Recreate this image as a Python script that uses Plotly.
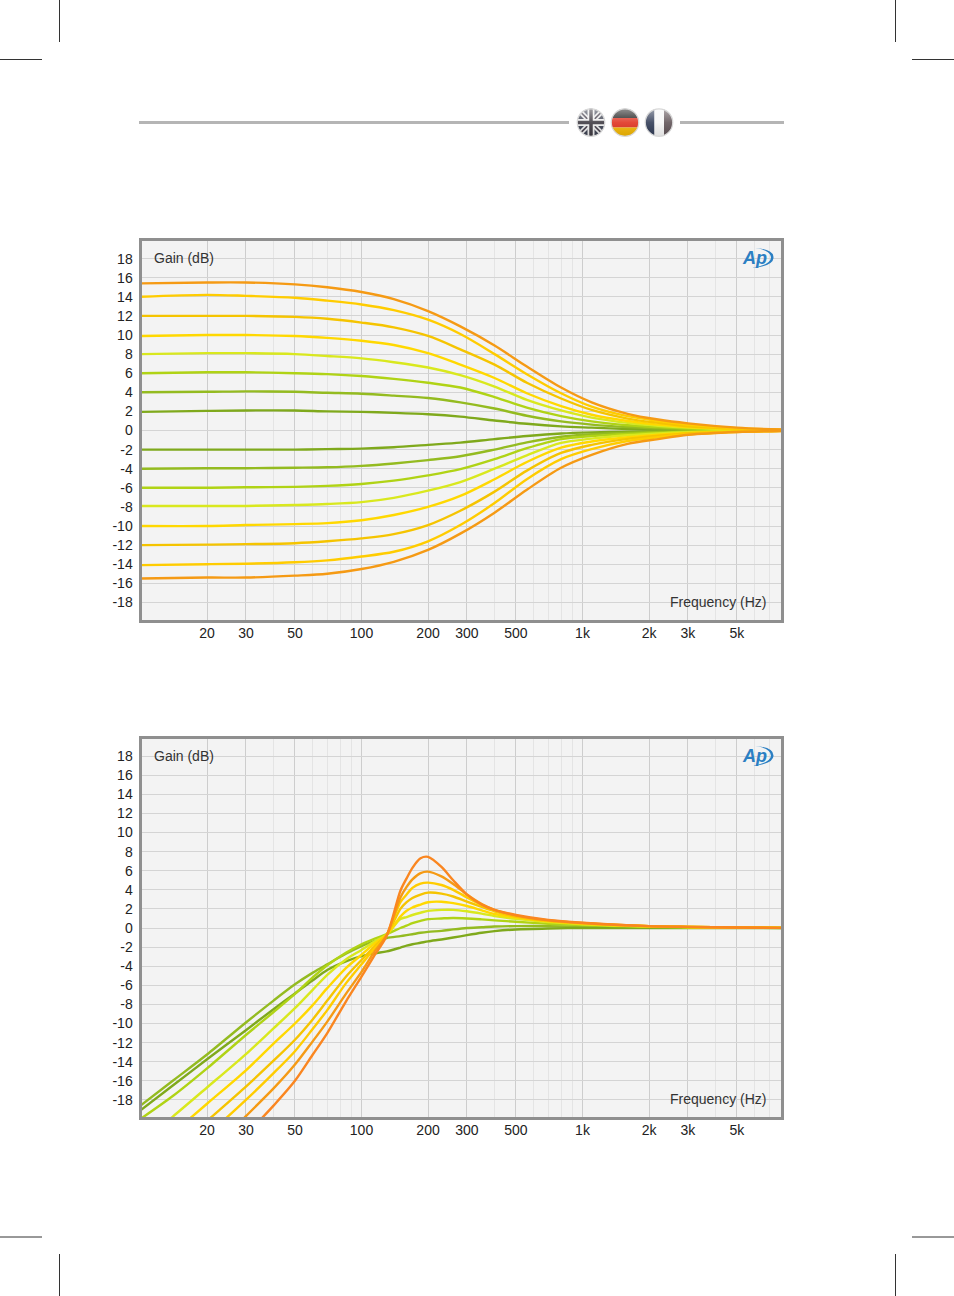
import base64
import plotly.graph_objects as go

W, H = 954, 1296

# top plot: shelving curves
shelf_freq = [10, 20, 30, 50, 70, 100, 140, 200, 280, 400, 560, 800, 1100, 1600, 2200, 3000, 5000, 8000]
shelf_p2 = [1.95, 2.05, 2.1, 2.1, 2.0, 1.95, 1.85, 1.7, 1.45, 1.05, 0.7, 0.43, 0.3, 0.16, 0.09, 0.05, 0.02, 0.01]
shelf_p4 = [4.0, 4.05, 4.1, 4.05, 3.95, 3.85, 3.65, 3.4, 2.95, 2.3, 1.55, 0.95, 0.62, 0.36, 0.22, 0.12, 0.05, 0.02]
shelf_p6 = [6.0, 6.1, 6.1, 6.0, 5.9, 5.7, 5.4, 5.0, 4.5, 3.5, 2.4, 1.5, 0.95, 0.55, 0.35, 0.2, 0.08, 0.03]
shelf_p8 = [8.0, 8.1, 8.1, 8.0, 7.8, 7.55, 7.15, 6.6, 5.8, 4.6, 3.2, 2.1, 1.35, 0.8, 0.5, 0.3, 0.12, 0.04]
shelf_p10 = [9.9, 10.0, 10.0, 9.9, 9.7, 9.4, 8.95, 8.1, 6.9, 5.5, 3.9, 2.55, 1.65, 1.0, 0.62, 0.35, 0.15, 0.05]
shelf_p12 = [12.0, 12.0, 12.0, 11.9, 11.7, 11.3, 10.8, 9.9, 8.5, 6.9, 5.0, 3.35, 2.15, 1.25, 0.8, 0.45, 0.2, 0.06]
shelf_p14 = [14.0, 14.2, 14.1, 13.9, 13.6, 13.2, 12.6, 11.6, 10.1, 8.0, 5.9, 3.9, 2.5, 1.5, 1.0, 0.6, 0.25, 0.08]
shelf_p15 = [15.4, 15.5, 15.5, 15.3, 15.0, 14.5, 13.75, 12.5, 10.9, 8.9, 6.7, 4.5, 2.95, 1.75, 1.15, 0.75, 0.3, 0.1]
shelf_m2 = [-2.0, -2.0, -2.0, -2.0, -1.95, -1.9, -1.75, -1.5, -1.27, -0.9, -0.58, -0.32, -0.2, -0.12, -0.07, -0.04, -0.02, 0]
shelf_m4 = [-4.0, -3.95, -3.95, -3.9, -3.85, -3.7, -3.45, -3.1, -2.7, -2.0, -1.25, -0.65, -0.4, -0.22, -0.13, -0.08, -0.03, -0.01]
shelf_m6 = [-6.0, -6.0, -5.95, -5.9, -5.8, -5.6, -5.25, -4.7, -4.05, -3.0, -1.85, -0.9, -0.58, -0.35, -0.22, -0.12, -0.05, -0.02]
shelf_m8 = [-7.9, -7.9, -7.9, -7.8, -7.7, -7.5, -7.05, -6.3, -5.4, -4.0, -2.6, -1.3, -0.85, -0.5, -0.3, -0.17, -0.06, -0.02]
shelf_m10 = [-10.0, -10.0, -9.9, -9.8, -9.7, -9.4, -8.85, -8.0, -6.85, -5.1, -3.3, -1.8, -1.15, -0.7, -0.43, -0.25, -0.1, -0.03]
shelf_m12 = [-12.0, -11.95, -11.9, -11.8, -11.6, -11.3, -10.85, -9.9, -8.4, -6.4, -4.2, -2.35, -1.5, -0.88, -0.55, -0.3, -0.12, -0.04]
shelf_m14 = [-14.1, -14.0, -13.95, -13.8, -13.6, -13.2, -12.7, -11.6, -9.9, -7.6, -5.1, -3.0, -1.95, -1.1, -0.7, -0.4, -0.15, -0.05]
shelf_m15 = [-15.5, -15.4, -15.4, -15.2, -15.0, -14.5, -13.75, -12.5, -10.8, -8.6, -6.2, -3.9, -2.55, -1.4, -0.9, -0.45, -0.15, -0.05]

# bottom plot: high pass / resonance curves
reso_freq = [10, 14, 20, 30, 40, 50, 60, 70, 85, 100, 115, 130, 150, 160, 170, 185, 200, 230, 260, 300, 350, 400, 500, 700, 1000, 2000, 3000, 5000, 8000]
reso_a = [-19.1, -16.5, -13.75, -10.7, -8.5, -6.85, -5.5, -4.4, -3.5, -2.95, -2.65, -2.45, -2.05, -1.85, -1.7, -1.55, -1.4, -1.2, -1.0, -0.75, -0.5, -0.33, -0.15, -0.05, 0, 0, 0, 0, 0]
reso_b = [-18.6, -16.0, -13.25, -9.9, -7.6, -5.9, -4.7, -3.8, -2.7, -1.9, -1.35, -1.05, -0.85, -0.75, -0.65, -0.5, -0.4, -0.3, -0.15, 0, 0.08, 0.15, 0.2, 0.2, 0.15, 0.08, 0.04, 0.02, 0]
reso_c = [-20.0, -17.6, -14.7, -11.2, -8.8, -6.9, -5.2, -3.9, -2.6, -1.7, -1.1, -0.65, 0, 0.25, 0.5, 0.75, 0.93, 1.0, 1.05, 1.0, 0.9, 0.8, 0.65, 0.45, 0.3, 0.12, 0.08, 0.04, 0.01]
reso_d = [-22.5, -19.75, -16.7, -13.2, -10.5, -8.4, -6.5, -4.9, -3.3, -2.3, -1.4, -0.7, 0.93, 1.15, 1.36, 1.6, 1.8, 1.9, 1.9, 1.75, 1.5, 1.25, 0.95, 0.62, 0.4, 0.16, 0.1, 0.05, 0.01]
reso_e = [-24.5, -21.5, -18.4, -14.9, -12.1, -10.0, -8.1, -6.3, -4.2, -2.8, -1.6, -0.7, 1.2, 1.8, 2.15, 2.45, 2.7, 2.75, 2.6, 2.3, 1.85, 1.47, 1.1, 0.7, 0.45, 0.18, 0.11, 0.05, 0.01]
reso_f = [-26.5, -23.4, -20.2, -16.6, -13.9, -11.7, -9.6, -7.6, -5.1, -3.35, -1.9, -0.7, 2.0, 2.7, 3.15, 3.5, 3.7, 3.6, 3.3, 2.75, 2.2, 1.75, 1.2, 0.75, 0.48, 0.18, 0.11, 0.05, 0.01]
reso_g = [-28.0, -24.8, -21.7, -18.0, -15.2, -12.9, -10.6, -8.6, -5.8, -3.8, -2.1, -0.7, 2.7, 3.5, 4.2, 4.65, 4.75, 4.5, 4.0, 3.2, 2.4, 1.85, 1.25, 0.78, 0.5, 0.2, 0.12, 0.05, 0.01]
reso_h = [-30.5, -27.2, -23.9, -19.7, -16.8, -14.3, -11.9, -9.8, -6.9, -4.6, -2.4, -0.75, 3.2, 4.3, 5.1, 5.75, 5.9, 5.4, 4.6, 3.5, 2.5, 1.9, 1.3, 0.8, 0.52, 0.2, 0.12, 0.05, 0.01]
reso_i = [-33.0, -29.8, -26.5, -21.7, -18.6, -16.0, -13.3, -11.0, -7.7, -5.1, -2.8, -0.85, 3.9, 5.2, 6.3, 7.3, 7.45, 6.4, 5.0, 3.5, 2.45, 1.9, 1.36, 0.84, 0.55, 0.2, 0.12, 0.05, 0.01]

shelf_series = [shelf_m2, shelf_p2, shelf_m4, shelf_p4, shelf_m6, shelf_p6, shelf_m8, shelf_p8,
                shelf_m10, shelf_p10, shelf_m12, shelf_p12, shelf_m14, shelf_p14, shelf_m15, shelf_p15]
shelf_colors = ["#7fa91c"] * 2 + ["#94bb20"] * 2 + ["#b0d315"] * 2 + ["#d9e81e"] * 2 + \
               ["#ffd800"] * 2 + ["#f5c400"] * 2 + ["#ffcc00"] * 2 + ["#f59a14"] * 2
reso_series = [reso_b, reso_a, reso_c, reso_d, reso_e, reso_f, reso_g, reso_h, reso_i]
reso_colors = ["#94bb20", "#7fa91c", "#b0d315", "#d9e81e", "#ffd800", "#f5c400", "#ffcc00", "#f59a14", "#fa8620"]

x_ticks = [20, 30, 50, 100, 200, 300, 500, 1000, 2000, 3000, 5000]
x_labels = ["20", "30", "50", "100", "200", "300", "500", "1k", "2k", "3k", "5k"]
x_minor = [40, 60, 70, 80, 90, 400, 600, 700, 800, 900, 4000, 6000, 7000]
y_ticks = list(range(-18, 20, 2))
y_labels = [str(v) for v in y_ticks]


def px(x):
    return x / W


def py(y):
    return 1 - y / H


def flag_svg(body):
    svg = ('<svg xmlns="http://www.w3.org/2000/svg" width="120" height="120" viewBox="0 0 120 120">'
           '<defs><clipPath id="c"><circle cx="60" cy="60" r="55"/></clipPath>'
           '<linearGradient id="g" x1="0" y1="0" x2="0" y2="1">'
           '<stop offset="0" stop-color="#fff" stop-opacity="0.55"/>'
           '<stop offset="0.5" stop-color="#fff" stop-opacity="0.12"/>'
           '<stop offset="1" stop-color="#000" stop-opacity="0.1"/></linearGradient></defs>'
           '<g clip-path="url(#c)">' + body + '<rect width="120" height="120" fill="url(#g)"/></g>'
           '<circle cx="60" cy="60" r="55" fill="none" stroke="#d8d8d8" stroke-width="5"/></svg>')
    return "data:image/svg+xml;base64," + base64.b64encode(svg.encode()).decode()


flag_uk = flag_svg('<rect width="120" height="120" fill="#3a3f4f"/>'
                   '<path d="M0 0L120 120M120 0L0 120" stroke="#eee" stroke-width="20"/>'
                   '<path d="M0 0L120 120M120 0L0 120" stroke="#4a4450" stroke-width="7"/>'
                   '<path d="M60 0V120M0 60H120" stroke="#eee" stroke-width="28"/>'
                   '<path d="M60 0V120M0 60H120" stroke="#3c3840" stroke-width="14"/>')
flag_de = flag_svg('<rect width="120" height="42" fill="#1a1a1a"/>'
                   '<rect y="42" width="120" height="38" fill="#e0301e"/>'
                   '<rect y="80" width="120" height="40" fill="#f2b600"/>')
flag_fr = flag_svg('<rect width="42" height="120" fill="#2f3a55"/>'
                   '<rect x="42" width="38" height="120" fill="#f6f6f6"/>'
                   '<rect x="80" width="40" height="120" fill="#5f5256"/>')

fig = go.Figure()

for s, c in zip(shelf_series, shelf_colors):
    fig.add_trace(go.Scatter(x=shelf_freq, y=s, mode="lines", line=dict(color=c, width=2.4, shape="spline", smoothing=0.9),
                             xaxis="x", yaxis="y", showlegend=False, hoverinfo="skip"))
for s, c in zip(reso_series, reso_colors):
    fig.add_trace(go.Scatter(x=reso_freq, y=s, mode="lines", line=dict(color=c, width=2.4, shape="spline", smoothing=0.8),
                             xaxis="x2", yaxis="y2", showlegend=False, hoverinfo="skip"))

# plot areas sit inside the 3px frame, 1k at 582.5 and 221px per decade, 9.55px per dB
left, right = 141.5, 781
x_range = [3 - (582.5 - left) / 221, 3 + (right - 582.5) / 221]

x_axis = dict(type="log", range=x_range, tickmode="array", tickvals=x_ticks, ticktext=x_labels,
              showgrid=True, gridcolor="#cdcdcd", gridwidth=1, zeroline=False,
              showline=True, linecolor="#8f8f8f", linewidth=3, mirror=True,
              ticks="", ticklabelstandoff=-2, tickfont=dict(family="Liberation Sans", size=14, color="#222222"),
              minor=dict(tickmode="array", tickvals=x_minor, showgrid=True, gridcolor="#e4e4e4", gridwidth=1, ticks=""))
y_axis = dict(tickmode="array", tickvals=y_ticks, ticktext=y_labels,
              showgrid=True, gridcolor="#d4d4d4", gridwidth=1, zeroline=False,
              showline=True, linecolor="#8f8f8f", linewidth=3, mirror=True,
              ticks="", ticklabelstandoff=3, tickfont=dict(family="Liberation Sans", size=14, color="#222222"))

top1, bot1, zero1 = 241, 620, 430.5
top2, bot2, zero2 = 739, 1117, 928

fig.update_layout(
    width=W, height=H, margin=dict(l=0, r=0, t=0, b=0), autosize=False,
    paper_bgcolor="white", plot_bgcolor="#f3f3f3", showlegend=False,
    xaxis=dict(x_axis, domain=[px(left), px(right)], anchor="y"),
    yaxis=dict(y_axis, domain=[py(bot1), py(top1)], anchor="x", range=[(zero1 - bot1) / 9.55, (zero1 - top1) / 9.55]),
    xaxis2=dict(x_axis, domain=[px(left), px(right)], anchor="y2"),
    yaxis2=dict(y_axis, domain=[py(bot2), py(top2)], anchor="x2", range=[(zero2 - bot2) / 9.55, (zero2 - top2) / 9.55]),
)

# page furniture, crop marks and rule
shapes = []
for x0, y0, x1, y1 in [(59.5, 0, 59.5, 42), (895.5, 0, 895.5, 42), (0, 59.5, 42, 59.5), (912, 59.5, 954, 59.5),
                       (59.5, 1254, 59.5, 1296), (895.5, 1254, 895.5, 1296), (0, 1237, 42, 1237), (912, 1237, 954, 1237)]:
    shapes.append(dict(type="line", xref="paper", yref="paper", x0=px(x0), y0=py(y0), x1=px(x1), y1=py(y1),
                       line=dict(color="#333333", width=1)))
for x0, x1 in [(139, 569), (680, 784)]:
    shapes.append(dict(type="line", xref="paper", yref="paper", x0=px(x0), y0=py(122.5), x1=px(x1), y1=py(122.5),
                       line=dict(color="#b5b5b5", width=3)))

annotations = []
for top, bottom in [(240, 621), (738, 1118)]:
    annotations.append(dict(text="Gain (dB)", xref="paper", yref="paper", x=px(152), y=py(top + 18), xanchor="left", yanchor="middle",
                            showarrow=False, font=dict(family="Liberation Sans", size=14, color="#333333")))
    annotations.append(dict(text="Frequency (Hz)", xref="paper", yref="paper", x=px(768), y=py(bottom - 19), xanchor="right", yanchor="middle",
                            showarrow=False, font=dict(family="Liberation Sans", size=14, color="#333333")))
    annotations.append(dict(text="<b><i>Ap</i></b>", xref="paper", yref="paper", x=px(754), y=py(top + 18), xanchor="center", yanchor="middle",
                            showarrow=False, font=dict(family="Liberation Sans", size=18, color="#2b7fc3")))
    cy = top + 18
    arc = "M {} {} Q {} {} {} {} Q {} {} {} {} Q {} {} {} {} Q {} {} {} {} Z".format(
        px(755), py(cy - 10), px(774), py(cy - 9), px(773.5), py(cy),
        px(773), py(cy + 8), px(752), py(cy + 10),
        px(770), py(cy + 7), px(771), py(cy),
        px(771), py(cy - 8), px(755), py(cy - 10))
    shapes.append(dict(type="path", xref="paper", yref="paper", path=arc, fillcolor="#2b7fc3", line=dict(width=0)))

images = []
for src, cx in [(flag_uk, 591), (flag_de, 625), (flag_fr, 659)]:
    images.append(dict(source=src, xref="paper", yref="paper", x=px(cx - 15), y=py(122.5 - 15), sizex=30 / W, sizey=30 / H,
                       xanchor="left", yanchor="top", sizing="stretch", layer="above"))

fig.update_layout(shapes=shapes, annotations=annotations, images=images)

fig.write_html("out.html", config=dict(displayModeBar=False),
               post_script="document.body.style.margin='0';document.body.style.overflow='hidden';")
